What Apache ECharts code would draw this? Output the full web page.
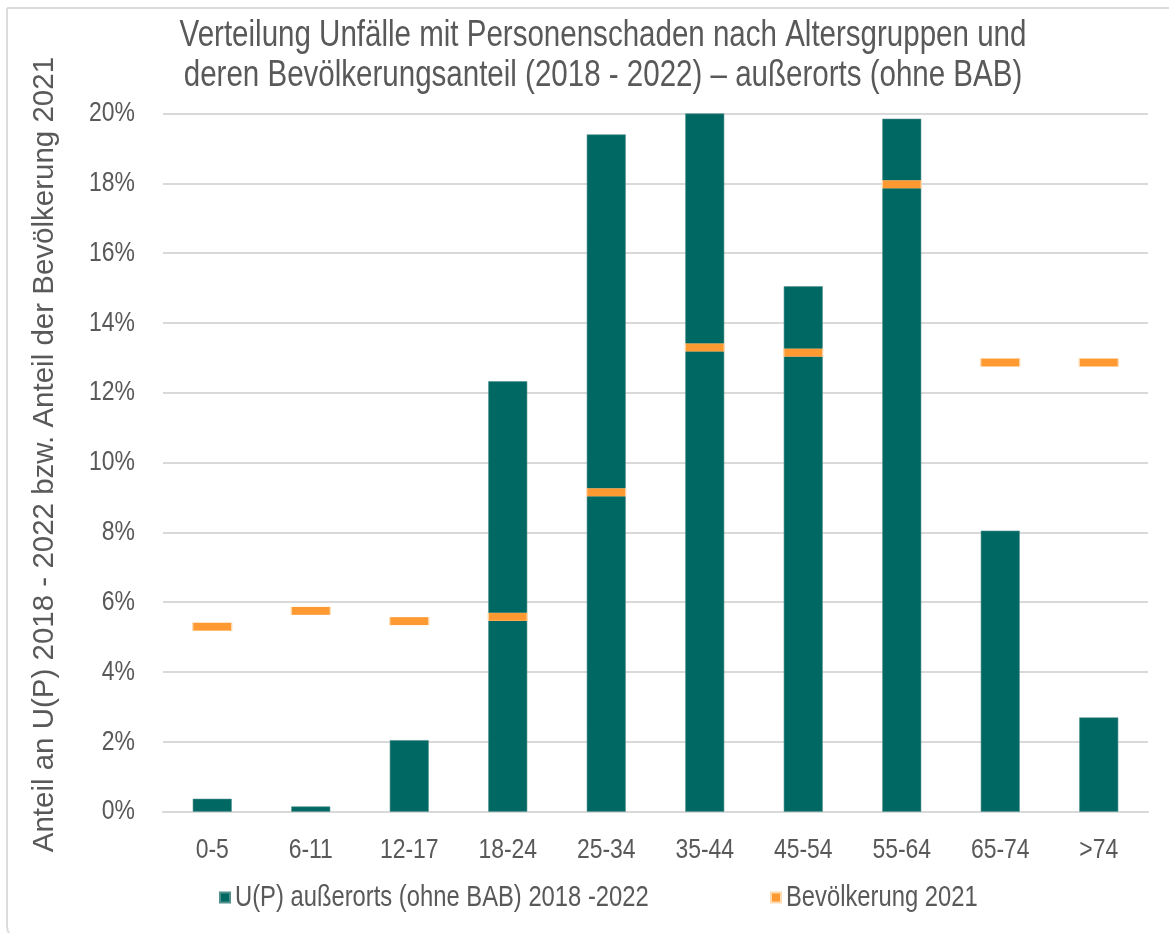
<!DOCTYPE html>
<html>
<head>
<meta charset="utf-8">
<script src="https://cdn.jsdelivr.net/npm/echarts@6/dist/echarts.min.js"></script>
<style>
  html, body { margin: 0; padding: 0; background: #ffffff; }
  #chart { width: 1169px; height: 933px; }
</style>
</head>
<body>
<div id="chart"></div>
<script>
// Altersgruppen
const categories = ['0-5', '6-11', '12-17', '18-24', '25-34', '35-44', '45-54', '55-64', '65-74', '>74'];
// Anteil an U(P) außerorts (ohne BAB) 2018-2022, in %
const unfallAnteil = [0.37, 0.15, 2.05, 12.33, 19.40, 20.00, 15.05, 19.85, 8.05, 2.70];
// Anteil an der Bevölkerung 2021, in %
const bevoelkerungAnteil = [5.30, 5.75, 5.46, 5.58, 9.15, 13.30, 13.15, 17.97, 12.87, 12.87];
// Beschriftung der y-Achse
const yTicks = [0, 2, 4, 6, 8, 10, 12, 14, 16, 18, 20];

const SERIES_UP = 'U(P) außerorts (ohne BAB) 2018 -2022';
const SERIES_BEV = 'Bevölkerung 2021';

const FONT = '"Liberation Sans", Arial, sans-serif';
const TEXT = '#595959';
const GRID = '#d9d9d9';
// horizontal condensing of the (narrow) text face
const NARROW = 0.82;

const chart = echarts.init(document.getElementById('chart'), null, { renderer: 'canvas' });

const legendText = { fontFamily: FONT, fontSize: 29, color: TEXT };

chart.setOption({
  backgroundColor: '#ffffff',
  animation: false,
  textStyle: { fontFamily: FONT, color: TEXT },
  graphic: [{
    type: 'rect',
    shape: { x: 7, y: 8, width: 1200, height: 932, r: [0, 0, 0, 14] },
    style: { fill: 'none', stroke: '#dcdcdc', lineWidth: 2 },
    silent: true,
    z: -1
  }],
  title: {
    text: 'Verteilung Unfälle mit Personenschaden nach Altersgruppen und\nderen Bevölkerungsanteil (2018 - 2022) – außerorts (ohne BAB)',
    left: 598,
    textAlign: 'center',
    top: 11,
    textStyle: {
      fontFamily: FONT,
      fontSize: 36,
      fontWeight: 'normal',
      color: TEXT,
      lineHeight: 40
    }
  },
  legend: [
    {
      bottom: 16, left: 214, itemWidth: 10, itemHeight: 10, itemGap: 0,
      textStyle: legendText,
      data: [{ name: SERIES_UP, icon: 'rect' }]
    },
    {
      bottom: 16, left: 765, itemWidth: 10, itemHeight: 10, itemGap: 0,
      textStyle: legendText,
      data: [{ name: SERIES_BEV, icon: 'rect' }]
    }
  ],
  grid: { left: 163, right: 21, top: 113.5, bottom: 121.3, containLabel: false },
  xAxis: {
    type: 'category',
    data: categories,
    axisLine: { show: true, lineStyle: { color: GRID, width: 2 } },
    axisTick: { show: false },
    axisLabel: { fontFamily: FONT, fontSize: 28, color: TEXT, margin: 25 }
  },
  yAxis: {
    type: 'value',
    min: yTicks[0],
    max: yTicks[yTicks.length - 1],
    interval: yTicks[1] - yTicks[0],
    name: 'Anteil an U(P) 2018 - 2022 bzw. Anteil der Bevölkerung 2021',
    nameLocation: 'middle',
    nameGap: 103,
    nameTextStyle: { fontFamily: FONT, fontSize: 29.5, color: TEXT, padding: [0, 0, 0, 16] },
    axisLine: { show: false },
    axisTick: { show: false },
    splitLine: { lineStyle: { color: GRID, width: 2 } },
    axisLabel: {
      fontFamily: FONT, fontSize: 28, color: TEXT, margin: 28,
      formatter: v => v + '%'
    }
  },
  series: [
    {
      name: SERIES_UP,
      type: 'bar',
      data: unfallAnteil,
      barWidth: 39,
      itemStyle: { color: '#006863', borderColor: '#4f8f8c', borderWidth: 0.6 },
      z: 2
    },
    {
      name: SERIES_BEV,
      type: 'scatter',
      data: bevoelkerungAnteil,
      symbol: 'rect',
      symbolSize: [39, 8],
      itemStyle: { color: '#FF9A33', borderColor: '#ffd9b0', borderWidth: 0.6, opacity: 1 },
      z: 3
    }
  ]
});

// Condense every horizontal text element around its own anchor point
const zr = chart.getZr();
function condense(el) {
  const horizontal = !el.rotation || Math.abs(el.rotation) < 1e-6;
  if (el.type === 'text' && horizontal && !el.__condensed) {
    el.__condensed = true;
    el.attr({
      rotation: 0,
      originX: (el.style && el.style.x) || 0,
      originY: (el.style && el.style.y) || 0,
      scaleX: NARROW
    });
  }
}
zr.storage.getRoots().forEach(root => {
  condense(root);
  if (root.traverse) root.traverse(condense);
});
zr.refreshImmediately();
</script>
</body>
</html>
